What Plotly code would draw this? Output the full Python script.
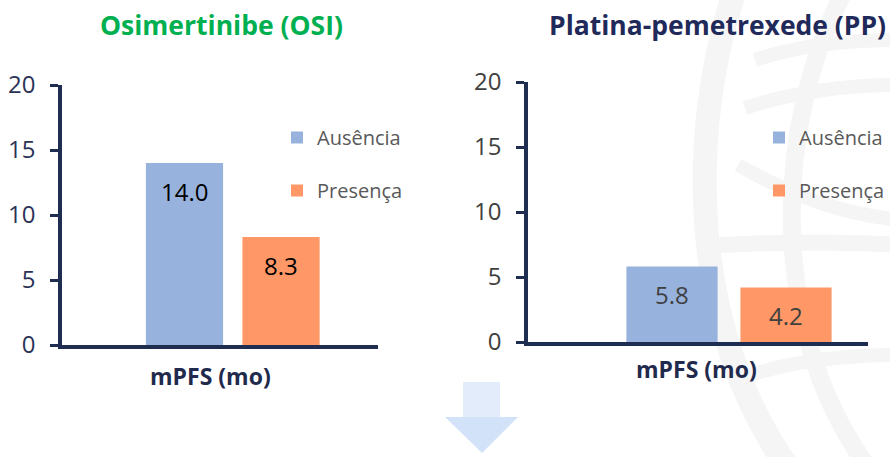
import plotly.graph_objects as go

W, H = 890, 457

# ---- data ----
category = ["mPFS (mo)"]
series_names = ["Ausência", "Presença"]
osi_values = [14.0, 8.3]
pp_values = [5.8, 4.2]
osi_labels = ["14.0", "8.3"]
pp_labels = ["5.8", "4.2"]
titles = ["Osimertinibe (OSI)", "Platina-pemetrexede (PP)"]
y_ticks = [0, 5, 10, 15, 20]

colors = ["#97b2dd", "#ff9766"]
NAVY = "#1f2d50"
FONT = "Open Sans"
BARGAP = 0.4
BARGROUPGAP = 0.2


def px(x):
    return x / W


def py(y):
    return 1 - y / H


fig = go.Figure()

panels = [
    dict(vals=osi_values, labels=osi_labels, xa="x", ya="y", legend="legend",
         lab_color="#000000", tick_color="#2a3356"),
    dict(vals=pp_values, labels=pp_labels, xa="x2", ya="y2", legend="legend2",
         lab_color="#404040", tick_color="#404040"),
]

for p in panels:
    for i, name in enumerate(series_names):
        fig.add_trace(go.Bar(
            x=[0], y=[p["vals"][i]], name=name,
            marker=dict(color=colors[i], line=dict(width=0)),
            xaxis=p["xa"], yaxis=p["ya"], legend=p["legend"],
            legendgroup=p["legend"] + str(i), hoverinfo="skip",
        ))

# offsets of bar centres inside the group
slot = (1 - BARGAP) / 2
offsets = [-slot / 2, slot / 2]

annotations = []
for p in panels:
    for i in range(len(series_names)):
        annotations.append(dict(
            x=offsets[i], y=p["vals"][i], xref=p["xa"], yref=p["ya"],
            text=p["labels"][i], showarrow=False, xanchor="center", yanchor="middle",
            yshift=-28, font=dict(family=FONT, size=24, color=p["lab_color"]),
        ))

# titles
annotations.append(dict(x=px(221), y=py(25), xref="paper", yref="paper",
                        xanchor="center", yanchor="middle",
                        text="<b>%s</b>" % titles[0], showarrow=False,
                        font=dict(family=FONT, size=26.5, color="#00b050")))
annotations.append(dict(x=px(717), y=py(25), xref="paper", yref="paper",
                        xanchor="center", yanchor="middle",
                        text="<b>%s</b>" % titles[1], showarrow=False,
                        font=dict(family=FONT, size=26.5, color="#1f2a5a")))
# category labels
annotations.append(dict(x=px(210), y=py(376), xref="paper", yref="paper",
                        xanchor="center", yanchor="middle",
                        text="<b>%s</b>" % category[0], showarrow=False,
                        font=dict(family=FONT, size=23, color="#1f2a4d")))
annotations.append(dict(x=px(696), y=py(369), xref="paper", yref="paper",
                        xanchor="center", yanchor="middle",
                        text="<b>%s</b>" % category[0], showarrow=False,
                        font=dict(family=FONT, size=23, color="#1f2a4d")))

# watermark globe (light grey) and down arrow
shapes = []
def path_px(pts, close=False):
    s = "M " + " L ".join("%f,%f" % (px(x), py(y)) for x, y in pts)
    return s + (" Z" if close else "")

def curve_px(p0, c1, c2, p1):
    return "M %f,%f C %f,%f %f,%f %f,%f" % (px(p0[0]), py(p0[1]), px(c1[0]), py(c1[1]),
                                             px(c2[0]), py(c2[1]), px(p1[0]), py(p1[1]))

wm = "#f5f5f5"
for pts, w in [
    (((735, -10), (688, 130), (688, 330), (790, 470)), 24),
    (((845, -10), (775, 120), (765, 330), (870, 470)), 18),
    (((755, 60), (800, 45), (850, 40), (900, 40)), 14),
    (((745, 108), (800, 90), (850, 85), (900, 85)), 14),
    (((738, 165), (800, 200), (850, 215), (900, 220)), 14),
    (((720, 245), (780, 242), (850, 242), (900, 245)), 16),
    (((735, 380), (790, 360), (850, 355), (900, 355)), 14),
]:
    shapes.append(dict(type="path", path=curve_px(*pts), xref="paper", yref="paper",
                       line=dict(color=wm, width=w), layer="below"))

shapes.append(dict(type="path", xref="paper", yref="paper", layer="above",
                   path=path_px([(463, 382), (500, 382), (500, 417), (463, 417)], True),
                   fillcolor="#e2ecfb", line=dict(width=0)))
shapes.append(dict(type="path", xref="paper", yref="paper", layer="above",
                   path=path_px([(445, 417), (518, 417), (482, 453)], True),
                   fillcolor="#d2e2f8", line=dict(width=0)))

axis_common = dict(showgrid=False, zeroline=False, showline=True,
                   linecolor=NAVY, linewidth=3.5, fixedrange=True)

fig.update_layout(
    width=W, height=H,
    margin=dict(l=0, r=0, t=0, b=0, autoexpand=False),
    paper_bgcolor="white", plot_bgcolor="rgba(0,0,0,0)",
    barmode="group", bargap=BARGAP, bargroupgap=BARGROUPGAP,
    font=dict(family=FONT),
    xaxis=dict(domain=[px(62), px(378)], range=[-0.5308, 0.4515],
               showticklabels=False, ticks="", **axis_common),
    yaxis=dict(domain=[py(345), py(85)], range=[0, 20], tickvals=y_ticks,
               ticks="outside", ticklen=8, tickwidth=3, tickcolor=NAVY,
               ticklabelstandoff=10,
               tickfont=dict(family=FONT, size=24, color=panels[0]["tick_color"]),
               **axis_common),
    xaxis2=dict(domain=[px(528), px(868)], range=[-0.529, 0.3658], anchor="y2",
                showticklabels=False, ticks="", **axis_common),
    yaxis2=dict(domain=[py(342), py(82)], range=[0, 20], tickvals=y_ticks, anchor="x2",
                ticks="outside", ticklen=8, tickwidth=3, tickcolor=NAVY,
                ticklabelstandoff=10,
                tickfont=dict(family=FONT, size=24, color=panels[1]["tick_color"]),
                **axis_common),
    legend=dict(x=px(277), y=py(118), xanchor="left", yanchor="top",
                bgcolor="rgba(0,0,0,0)", tracegroupgap=24,
                font=dict(family=FONT, size=20, color="#595959")),
    legend2=dict(x=px(759), y=py(118), xanchor="left", yanchor="top",
                 bgcolor="rgba(0,0,0,0)", tracegroupgap=24,
                 font=dict(family=FONT, size=20, color="#595959")),
    annotations=annotations,
    shapes=shapes,
    showlegend=True,
)

fig.write_html("out.html")
